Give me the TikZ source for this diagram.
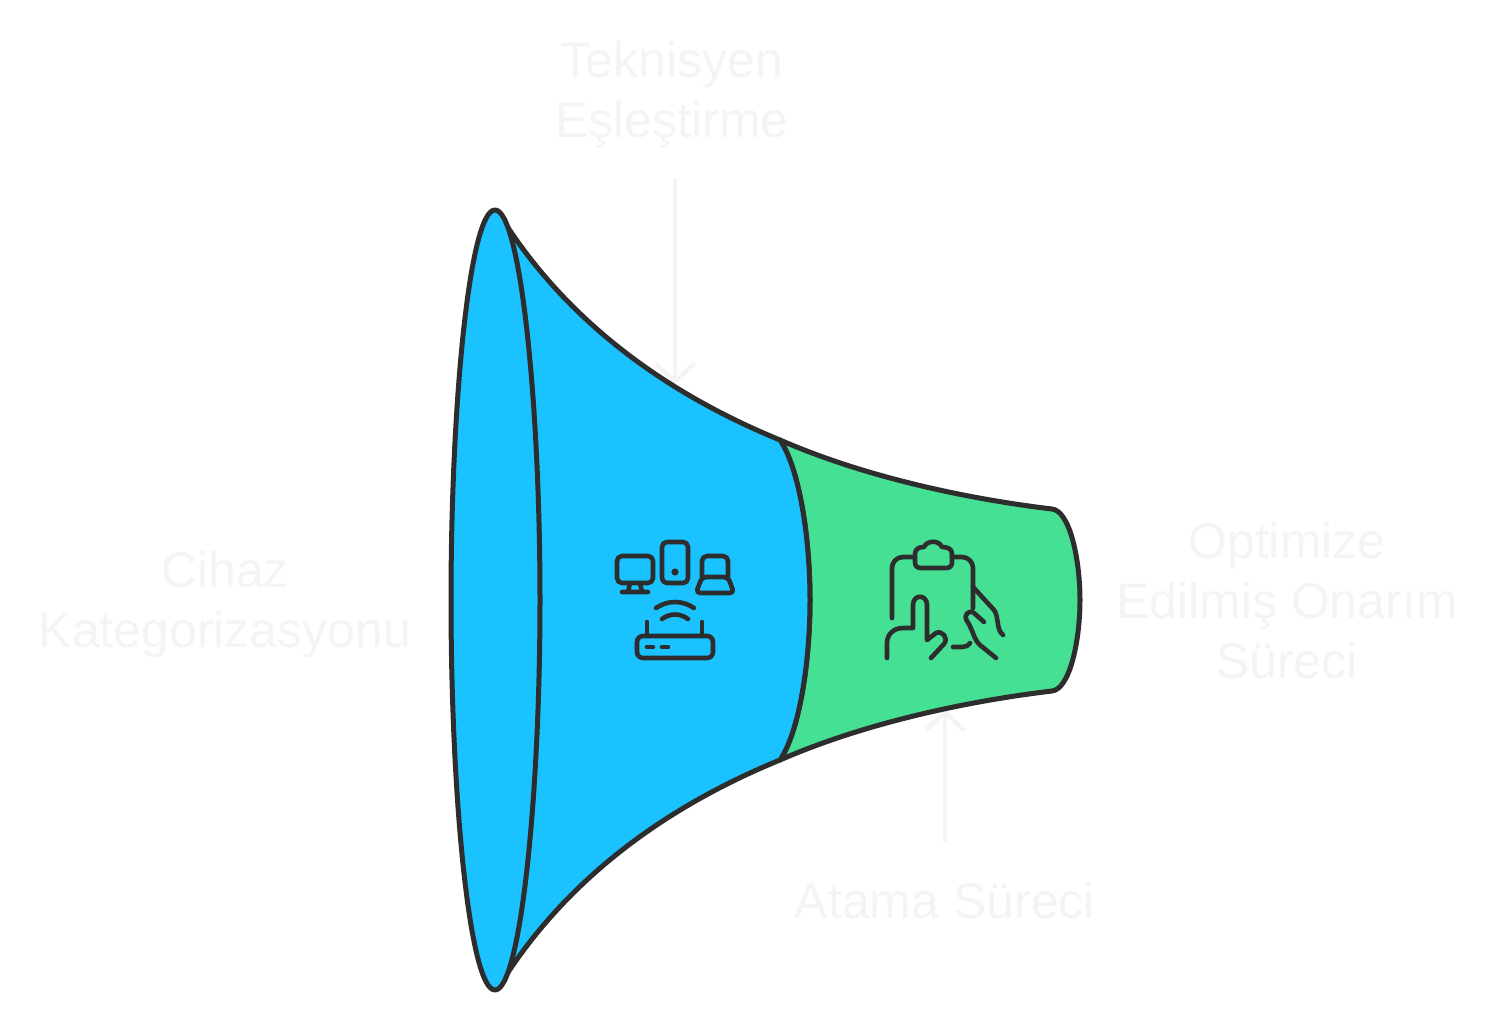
\documentclass[tikz,border=0pt]{standalone}
\usepackage{fontspec}
\setmainfont{Liberation Sans}
\usetikzlibrary{arrows.meta, positioning}
\definecolor{bluefill}{HTML}{1AC3FF}
\definecolor{greenfill}{HTML}{45E094}
\definecolor{outline}{HTML}{2D2D2D}
\definecolor{faint}{HTML}{F4F4F4}
\tikzset{
    band/.style={draw=outline, line width=5pt, line join=round},
    icon/.style={draw=outline, line width=4.6pt, line cap=round, line join=round},
    label/.style={text=faint, align=center, font=\fontsize{50}{60}\selectfont, inner sep=0pt},
    hint/.style={draw=faint, line width=4.5pt, line cap=round, -{Straight Barb[length=17pt, width=36pt, round]}}
}

\begin{document}
\begin{tikzpicture}[x=1pt, y=-1pt]
    \useasboundingbox (0,0) rectangle (1500,1024);

    % labels
    \node[label] (match) at (672,95) {Teknisyen\\Eşleştirme};
    \node[label] (category) at (225,605) {Cihaz\\Kategorizasyonu};
    \node[label] (optimized) at (1287,601) {Optimize\\Edilmiş Onarım\\Süreci};
    \node[label] (assign) at (945,901) {Atama Süreci};

    \coordinate (matchStart) at (675,180);
    \coordinate (matchEnd) at (675,384);
    \coordinate (assignStart) at (945,840);
    \coordinate (assignEnd) at (945,710);
    \draw[hint] (matchStart) -- (matchEnd);
    \draw[hint] (assignStart) -- (assignEnd);

    % funnel
    \draw[band, fill=greenfill] (780,440) .. controls (860,475) and (960,498) .. (1052,509)
        .. controls (1070,511) and (1080,560) .. (1080,600)
        .. controls (1080,640) and (1070,689) .. (1052,691)
        .. controls (960,702) and (860,725) .. (780,760)
        .. controls (800,730) and (810,660) .. (810,600)
        .. controls (810,540) and (800,470) .. (780,440) -- cycle;
    \draw[band, fill=bluefill] (503,220) .. controls (570,325) and (670,395) .. (780,440)
        .. controls (800,470) and (810,540) .. (810,600)
        .. controls (810,660) and (800,730) .. (780,760)
        .. controls (670,805) and (570,875) .. (503,980) -- cycle;
    \draw[band, fill=bluefill] (495,210) .. controls (470,210) and (451,400) .. (451,600)
        .. controls (451,800) and (470,990) .. (495,990)
        .. controls (520,990) and (540,800) .. (540,600)
        .. controls (540,400) and (520,210) .. (495,210) -- cycle;

    % devices icon
    \draw[icon, rounded corners=5pt] (617,556) rectangle (653,583);
    \draw[icon] (630,583) -- (628,592) (640,583) -- (642,592) (622,592) -- (648,592);
    \draw[icon, rounded corners=5pt] (662,542) rectangle (688,583);
    \fill[outline] (675,572) circle (3.6pt);
    \draw[icon, rounded corners=5pt] (702,577) -- (702,556) -- (728,556) -- (728,577);
    \draw[icon, rounded corners=4pt] (702,577) -- (696,593) -- (734,593) -- (728,577) -- cycle;
    \draw[icon] (656,608) .. controls (668,600) and (682,600) .. (694,608);
    \draw[icon] (662,619) .. controls (670,613) and (680,613) .. (688,619);
    \draw[icon, rounded corners=6pt] (637,636) rectangle (713,658);
    \draw[icon] (647,622) -- (647,636) (702,622) -- (702,636);
    \draw[icon] (647,647) -- (653,647) (662,647) -- (668,647);

    % clipboard icon
    \draw[icon, rounded corners=11pt] (892,618) -- (892,557) -- (915,557);
    \draw[icon, rounded corners=11pt] (952,557) -- (973,557) -- (973,608);
    \draw[icon] (921,568) .. controls (917,568) and (915,566) .. (915,562)
        -- (915,554) .. controls (915,549) and (919,547) .. (924,547)
        .. controls (927,540) and (939,540) .. (942,547)
        .. controls (948,547) and (952,549) .. (952,554)
        -- (952,562) .. controls (952,566) and (950,568) .. (946,568) -- cycle;
    \draw[icon] (887,658) -- (887,643) .. controls (887,634) and (894,628) .. (903,628) -- (913,628)
        -- (913,605) .. controls (913,594) and (927,594) .. (927,605) -- (927,640)
        -- (936,633) .. controls (942,630) and (949,638) .. (944,644) -- (931,658);
    \draw[icon] (973,587) -- (994,610) .. controls (999,616) and (996,630) .. (1003,635);
    \draw[icon] (984,622) -- (974,613) .. controls (969,609) and (963,615) .. (967,621)
        .. controls (973,630) and (974,640) .. (980,645) -- (996,658);
    \draw[icon] (953,647) -- (962,647) .. controls (965,647) and (968,646) .. (970,643);
\end{tikzpicture}
\end{document}
